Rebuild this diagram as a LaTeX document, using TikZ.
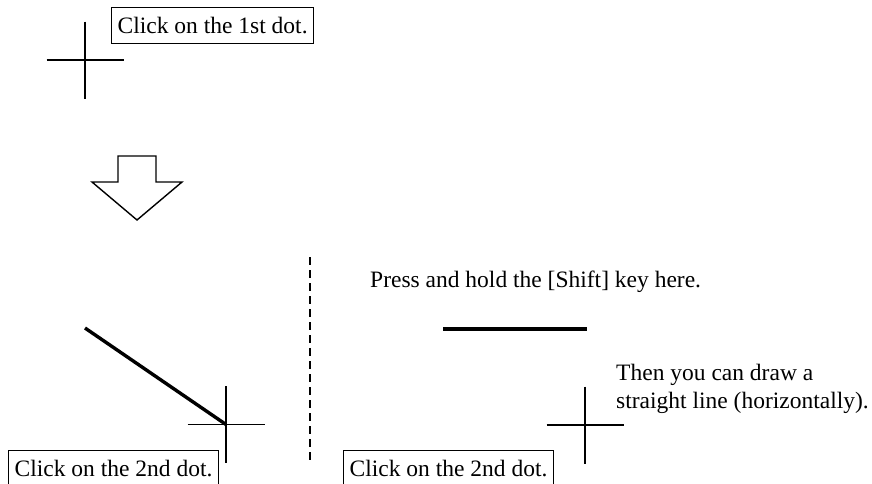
\documentclass[tikz,border=0pt]{standalone}
\usepackage{fontspec}
\setmainfont{Liberation Serif}
\begin{document}
\begin{tikzpicture}[x=1pt,y=-1pt,
  thinline/.style={line width=1.4pt, black},
  thickline/.style={line width=3.4pt, black},
  txt/.style={font=\fontsize{23.5}{28}\selectfont, inner sep=0pt},
  labelbox/.style={txt, draw, line width=1.3pt, inner xsep=6pt, inner ysep=0pt,
                   text height=26pt, text depth=10pt},
  crosshair/.pic={\draw[thinline] (-38.5,0) -- (38.5,0) (0,-38.5) -- (0,38.5);}
]
\useasboundingbox (0,0) rectangle (872,483);

% cross-hair positions
\coordinate (c1) at (85,60);
\coordinate (c2) at (226,424.5);
\coordinate (c3) at (585,425);
\pic at (c1) {crosshair};
\pic at (c2) {crosshair};
\pic at (c3) {crosshair};

% labels
\node[labelbox, anchor=north west] (first) at (111,7) {Click on the 1st dot.};
\node[labelbox, anchor=north west] (secondA) at (8,450) {Click on the 2nd dot.};
\node[labelbox, anchor=north west] (secondB) at (343,450) {Click on the 2nd dot.};
\node[txt, anchor=base west] (press) at (370,287) {Press and hold the [Shift] key here.};
\node[txt, anchor=north west, align=left] (then) at (616,363.5) {Then you can draw a\\straight line (horizontally).};

% down arrow
\draw[thinline, line join=miter]
  (118,156) -- (156,156) -- (156,182) -- (182,182) -- (137,220)
  -- (92,182) -- (118,182) -- cycle;

% drawn lines
\coordinate (d1) at (85,328);
\draw[thickline] (d1) -- (c2);
\coordinate (h1) at (443,329);
\coordinate (h2) at (587,329);
\draw[thickline] (h1) -- (h2);

% dashed separator
\coordinate (s1) at (310,257);
\coordinate (s2) at (310,464);
\draw[line width=1.8pt, dash pattern=on 8pt off 5pt] (s1) -- (s2);
\end{tikzpicture}
\end{document}
